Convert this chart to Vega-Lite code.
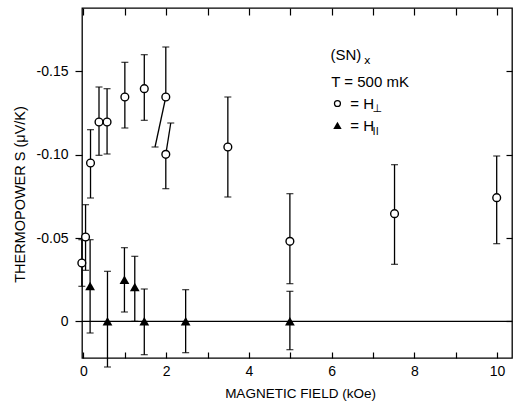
{
  "$schema": "https://vega.github.io/schema/vega-lite/v6.json",
  "width": 430,
  "height": 350,
  "autosize": {"type": "none"},
  "padding": {"left": 82, "top": 8, "right": 1, "bottom": 45},
  "background": "white",
  "config": {
    "view": {"stroke": "black", "strokeWidth": 1.3},
    "font": "Liberation Sans",
    "axis": {
      "domainColor": "black", "domainWidth": 1.3, "tickColor": "black", "tickWidth": 1.2,
      "labelColor": "black", "titleColor": "black", "grid": false,
      "labelFont": "Liberation Sans", "titleFont": "Liberation Sans",
      "labelFontSize": 14, "titleFontSize": 13, "titleFontWeight": "normal"
    }
  },
  "datasets": {
    "pts": [
      {"set": "perp", "h": -0.04, "s": -0.035, "lo": -0.021, "hi": -0.049, "hlo": -0.04, "hhi": -0.04},
      {"set": "perp", "h": 0.05, "s": -0.0506, "lo": -0.0306, "hi": -0.070, "hlo": 0.05, "hhi": 0.05},
      {"set": "perp", "h": 0.17, "s": -0.095, "lo": -0.074, "hi": -0.115, "hlo": 0.17, "hhi": 0.17},
      {"set": "perp", "h": 0.375, "s": -0.1196, "lo": -0.0996, "hi": -0.1406, "hlo": 0.375, "hhi": 0.375},
      {"set": "perp", "h": 0.57, "s": -0.1196, "lo": -0.1004, "hi": -0.1396, "hlo": 0.57, "hhi": 0.57},
      {"set": "perp", "h": 1.0, "s": -0.1346, "lo": -0.116, "hi": -0.1554, "hlo": 1.0, "hhi": 1.0},
      {"set": "perp", "h": 1.47, "s": -0.1396, "lo": -0.1206, "hi": -0.160, "hlo": 1.47, "hhi": 1.47},
      {"set": "perp", "h": 1.99, "s": -0.1346, "lo": -0.1046, "hi": -0.1646, "hlo": 1.73, "hhi": 1.99},
      {"set": "perp", "h": 1.99, "s": -0.1002, "lo": -0.0796, "hi": -0.119, "hlo": 1.99, "hhi": 2.11},
      {"set": "perp", "h": 3.49, "s": -0.1046, "lo": -0.0746, "hi": -0.1346, "hlo": 3.49, "hhi": 3.49},
      {"set": "perp", "h": 4.99, "s": -0.048, "lo": -0.0226, "hi": -0.0766, "hlo": 4.99, "hhi": 4.99},
      {"set": "perp", "h": 7.52, "s": -0.0646, "lo": -0.0342, "hi": -0.094, "hlo": 7.52, "hhi": 7.52},
      {"set": "perp", "h": 9.99, "s": -0.0742, "lo": -0.0466, "hi": -0.0992, "hlo": 9.99, "hhi": 9.99},
      {"set": "par", "h": 0.16, "s": -0.0212, "lo": 0.007, "hi": -0.049, "hlo": 0.16, "hhi": 0.16},
      {"set": "par", "h": 0.58, "s": 0, "lo": 0.0274, "hi": -0.030, "hlo": 0.58, "hhi": 0.58},
      {"set": "par", "h": 0.99, "s": -0.025, "lo": -0.0056, "hi": -0.0442, "hlo": 0.99, "hhi": 0.99},
      {"set": "par", "h": 1.24, "s": -0.0206, "lo": 0, "hi": -0.039, "hlo": 1.24, "hhi": 1.24},
      {"set": "par", "h": 1.47, "s": 0, "lo": 0.020, "hi": -0.0194, "hlo": 1.47, "hhi": 1.47},
      {"set": "par", "h": 2.47, "s": 0, "lo": 0.0188, "hi": -0.019, "hlo": 2.47, "hhi": 2.47},
      {"set": "par", "h": 4.99, "s": 0, "lo": 0.017, "hi": -0.018, "hlo": 4.99, "hhi": 4.99}
    ],
    "notes": [
      {"x": 5.97, "y": -0.1596, "t": "(SN)"},
      {"x": 5.99, "y": -0.1434, "t": "T = 500 mK"},
      {"x": 6.45, "y": -0.1307, "t": "= H"},
      {"x": 6.45, "y": -0.1170, "t": "= H"}
    ],
    "subs": [
      {"x": 6.78, "y": -0.1562, "t": "x"},
      {"x": 6.99, "y": -0.1275, "t": "⊥"},
      {"x": 6.99, "y": -0.1135, "t": "ll"}
    ],
    "keys": [
      {"set": "perp", "x": 6.14, "y": -0.1307},
      {"set": "par", "x": 6.14, "y": -0.1176}
    ]
  },
  "layer": [
    {
      "data": {"values": [{"s": 0}]},
      "mark": {"type": "rule", "color": "black", "strokeWidth": 1.3},
      "encoding": {
        "y": {"field": "s", "type": "quantitative", "scale": {"domain": [-0.188, 0.022], "reverse": true, "nice": false, "zero": false},
          "axis": {"orient": "right", "values": [-0.15, -0.10, -0.05, 0], "labels": false, "tickSize": -6, "domain": false, "title": null}}
      }
    },
    {
      "data": {"name": "pts"},
      "mark": {"type": "rule", "color": "black", "strokeWidth": 1.3},
      "encoding": {
        "x": {"field": "h", "type": "quantitative", "scale": {"domain": [-0.036, 10.36], "nice": false, "zero": false},
          "axis": {"orient": "top", "values": [0,1,2,3,4,5,6,7,8,9,10], "labels": false, "tickSize": -7, "domain": false, "title": null}},
        "y": {"field": "s", "type": "quantitative", "axis": null},
        "x2": {"field": "hlo"},
        "y2": {"field": "lo"}
      }
    },
    {
      "data": {"name": "pts"},
      "mark": {"type": "rule", "color": "black", "strokeWidth": 1.3},
      "encoding": {
        "x": {"field": "h", "type": "quantitative", "axis": null},
        "y": {"field": "s", "type": "quantitative", "axis": null},
        "x2": {"field": "hhi"},
        "y2": {"field": "hi"}
      }
    },
    {
      "data": {"name": "pts"},
      "mark": {"type": "tick", "orient": "horizontal", "color": "black", "size": 7, "thickness": 1.3},
      "encoding": {
        "x": {"field": "hlo", "type": "quantitative", "axis": null},
        "y": {"field": "lo", "type": "quantitative", "axis": null}
      }
    },
    {
      "data": {"name": "pts"},
      "mark": {"type": "tick", "orient": "horizontal", "color": "black", "size": 7, "thickness": 1.3},
      "encoding": {
        "x": {"field": "hhi", "type": "quantitative", "axis": null},
        "y": {"field": "hi", "type": "quantitative", "axis": null}
      }
    },
    {
      "data": {"name": "pts"},
      "transform": [{"filter": "datum.set == 'perp'"}],
      "mark": {"type": "point", "shape": "circle", "filled": false, "fill": "white", "fillOpacity": 1, "stroke": "black", "strokeWidth": 1.4, "size": 60, "opacity": 1},
      "encoding": {
        "x": {"field": "h", "type": "quantitative",
          "axis": {"orient": "bottom", "values": [0,1,2,3,4,5,6,7,8,9,10], "labelExpr": "datum.value % 2 == 0 ? datum.label : ''", "tickSize": -6, "labelPadding": 12, "domain": false,
            "title": "MAGNETIC FIELD (kOe)", "titleFontSize": 13.5, "titleX": 218, "titleY": 35, "titleBaseline": "middle", "titleAlign": "center"}},
        "y": {"field": "s", "type": "quantitative",
          "axis": {"orient": "left", "values": [-0.15, -0.10, -0.05, 0], "labelExpr": "datum.value == 0 ? '0' : '-' + format(abs(datum.value), '.2f')", "tickSize": 7, "labelPadding": 7, "domain": false,
            "title": "THERMOPOWER S (μV/K)", "titleFontSize": 14.5, "titleX": -62, "titleY": 186, "titleAngle": -90, "titleBaseline": "middle", "titleAlign": "center"}}
      }
    },
    {
      "data": {"name": "pts"},
      "transform": [{"filter": "datum.set == 'par'"}],
      "mark": {"type": "point", "shape": "triangle-up", "filled": true, "color": "black", "size": 95, "opacity": 1},
      "encoding": {
        "x": {"field": "h", "type": "quantitative", "axis": null},
        "y": {"field": "s", "type": "quantitative", "axis": null}
      }
    },
    {
      "data": {"name": "notes"},
      "mark": {"type": "text", "align": "left", "baseline": "middle", "fontSize": 15, "color": "black", "font": "Liberation Sans"},
      "encoding": {
        "x": {"field": "x", "type": "quantitative", "axis": null},
        "y": {"field": "y", "type": "quantitative", "axis": null},
        "text": {"field": "t"}
      }
    },
    {
      "data": {"name": "subs"},
      "mark": {"type": "text", "align": "left", "baseline": "middle", "fontSize": 11, "color": "black", "font": "DejaVu Sans"},
      "encoding": {
        "x": {"field": "x", "type": "quantitative", "axis": null},
        "y": {"field": "y", "type": "quantitative", "axis": null},
        "text": {"field": "t"}
      }
    },
    {
      "data": {"name": "keys"},
      "transform": [{"filter": "datum.set == 'perp'"}],
      "mark": {"type": "point", "shape": "circle", "filled": false, "stroke": "black", "strokeWidth": 1.3, "size": 35, "opacity": 1},
      "encoding": {
        "x": {"field": "x", "type": "quantitative", "axis": null},
        "y": {"field": "y", "type": "quantitative", "axis": null}
      }
    },
    {
      "data": {"name": "keys"},
      "transform": [{"filter": "datum.set == 'par'"}],
      "mark": {"type": "point", "shape": "triangle-up", "filled": true, "color": "black", "size": 70, "opacity": 1},
      "encoding": {
        "x": {"field": "x", "type": "quantitative", "axis": null},
        "y": {"field": "y", "type": "quantitative", "axis": null}
      }
    }
  ]
}
